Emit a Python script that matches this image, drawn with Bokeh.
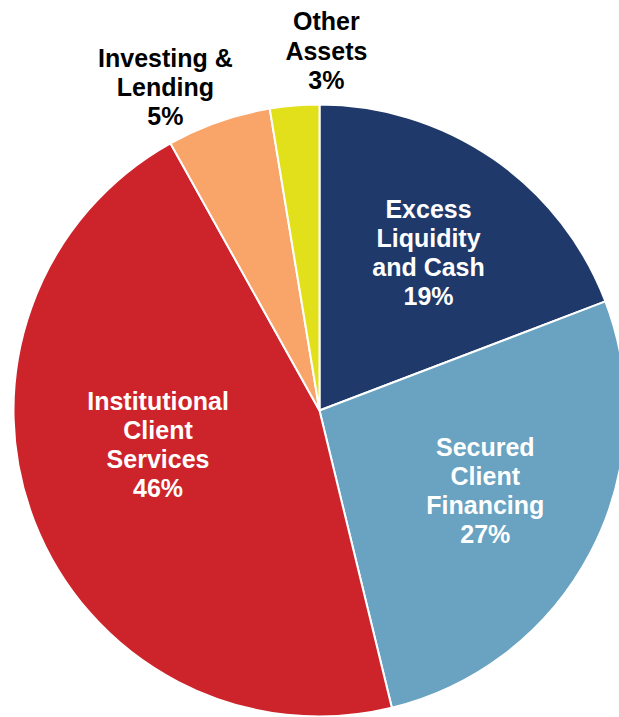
import math
from bokeh.plotting import figure
from bokeh.models import ColumnDataSource, Range1d
from bokeh.core.properties import value
from bokeh.embed import file_html
from bokeh.resources import INLINE

# ---- data ----
categories = ["Excess\nLiquidity\nand Cash", "Secured\nClient\nFinancing",
              "Institutional\nClient\nServices", "Investing &\nLending", "Other\nAssets"]
shares = [19.2, 27.0, 45.7, 5.5, 2.6]
pct_labels = ["19%", "27%", "46%", "5%", "3%"]
colors = ["#1F396B", "#69A3C1", "#CD242C", "#F9A469", "#E2E01A"]

# ---- layout (pixels) ----
W, H = 619, 717
CX, CY = 319, H - 410
R = 306
# label placement: (radius px, angle deg clockwise from 12 o'clock), text colour
label_pos = [(192, 34.6, "white"), (184, 115.7, "white"), (165, 258.1, "white"),
             (358, 334.5, "black"), (360, 1.1, "black")]

total = sum(shares)
starts, ends = [], []
cum = 0.0
for s in shares:
    starts.append(math.pi / 2 - cum / total * 2 * math.pi)
    cum += s
    ends.append(math.pi / 2 - cum / total * 2 * math.pi)

src = ColumnDataSource(dict(start=starts, end=ends, color=colors))

p = figure(width=W, height=H, output_backend="svg", toolbar_location=None,
           x_range=Range1d(0, W), y_range=Range1d(0, H), min_border=0)
p.axis.visible = False
p.grid.visible = False
p.outline_line_color = None
p.background_fill_color = "white"

p.wedge(x=CX, y=CY, radius=R, start_angle="start", end_angle="end",
        direction="clock", fill_color="color", line_color="white",
        line_width=2, source=src)

lx, ly, txt, tcol = [], [], [], []
for cat, pct, (r, a, c) in zip(categories, pct_labels, label_pos):
    ang = math.radians(a)
    lx.append(CX + r * math.sin(ang))
    ly.append(CY + r * math.cos(ang))
    txt.append(cat + "\n" + pct)
    tcol.append(c)

lsrc = ColumnDataSource(dict(x=lx, y=ly, text=txt, color=tcol))
p.text(x="x", y="y", text="text", source=lsrc, text_color="color",
       text_font=value("Liberation Sans"), text_font_style="bold",
       text_font_size="25px", text_align="center", text_baseline="middle",
       text_line_height=1.04)

open("out.html", "w").write(file_html(p, INLINE))
